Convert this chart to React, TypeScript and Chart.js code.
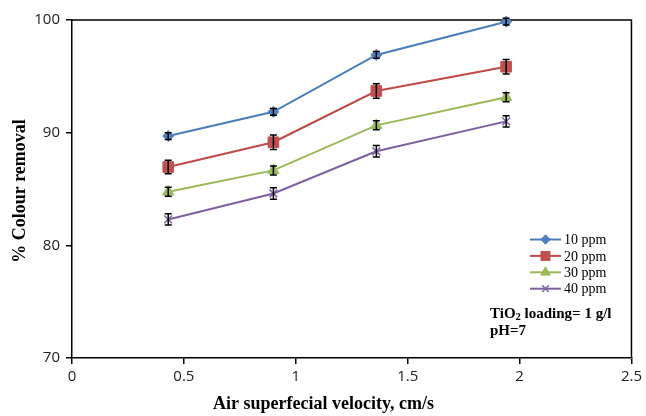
import React, { useEffect, useRef } from "react";
import { Chart, registerables } from "chart.js";
import { drawPoint } from "chart.js/helpers";

Chart.register(...registerables);

// Air superficial velocity (cm/s)
const velocity = [0.43, 0.9, 1.36, 1.94];

// % colour removal for each initial dye concentration
const ppm10 = [89.7, 91.85, 96.9, 99.85];
const ppm20 = [86.95, 89.15, 93.7, 95.85];
const ppm30 = [84.75, 86.65, 90.65, 93.15];
const ppm40 = [82.3, 84.6, 88.35, 91.0];

// standard deviations (± error bar half-length)
const err10 = [0.3, 0.3, 0.3, 0.3];
const err20 = [0.6, 0.65, 0.65, 0.65];
const err30 = [0.4, 0.4, 0.4, 0.4];
const err40 = [0.5, 0.5, 0.5, 0.5];

const seriesLabels = ["10 ppm", "20 ppm", "30 ppm", "40 ppm"];
const xTicks = [0, 0.5, 1, 1.5, 2, 2.5];
const yTicks = [70, 80, 90, 100];

const SERIF = '"Liberation Serif", "Times New Roman", serif';
const SANS = '"Open Sans", "DejaVu Sans", sans-serif';

const series = [
  { values: ppm10, errs: err10, line: "#4A7EBB", fill: "#4F81BD", style: "rectRot", radius: 5.5 },
  { values: ppm20, errs: err20, line: "#BE4B48", fill: "#C0504D", style: "rect", radius: 7.5 },
  { values: ppm30, errs: err30, line: "#98B954", fill: "#9BBB59", style: "triangle", radius: 6.5 },
  { values: ppm40, errs: err40, line: "#7D60A0", fill: "#8064A2", style: "crossRot", radius: 5.5 },
];

const frameAndErrors = {
  id: "frameAndErrors",
  beforeDatasetsDraw(chart: any) {
    const { ctx, chartArea } = chart;
    ctx.save();
    ctx.strokeStyle = "#000";
    ctx.lineWidth = 1.5;
    ctx.beginPath();
    ctx.moveTo(chartArea.left, chartArea.top);
    ctx.lineTo(chartArea.right, chartArea.top);
    ctx.lineTo(chartArea.right, chartArea.bottom);
    ctx.stroke();
    ctx.restore();
  },
  afterDatasetsDraw(chart: any) {
    const { ctx } = chart;
    const xs = chart.scales.x;
    const ys = chart.scales.y;
    ctx.save();
    ctx.strokeStyle = "#000";
    ctx.lineWidth = 1.5;
    chart.data.datasets.forEach((ds: any) => {
      ds.data.forEach((p: any, i: number) => {
        const e = ds.errors[i];
        const px = xs.getPixelForValue(p.x);
        const top = ys.getPixelForValue(p.y + e);
        const bot = ys.getPixelForValue(p.y - e);
        ctx.beginPath();
        ctx.moveTo(px, top);
        ctx.lineTo(px, bot);
        ctx.moveTo(px - 3.5, top);
        ctx.lineTo(px + 3.5, top);
        ctx.moveTo(px - 3.5, bot);
        ctx.lineTo(px + 3.5, bot);
        ctx.stroke();
      });
    });
    ctx.restore();
  },
  afterDraw(chart: any) {
    const { ctx, chartArea } = chart;
    ctx.save();

    // legend inside the plot
    const lx = 530;
    let ly = 239.5;
    ctx.font = `14px ${SERIF}`;
    ctx.textBaseline = "middle";
    ctx.textAlign = "left";
    chart.data.datasets.forEach((ds: any) => {
      ctx.strokeStyle = ds.borderColor;
      ctx.lineWidth = 2;
      ctx.beginPath();
      ctx.moveTo(lx, ly);
      ctx.lineTo(lx + 31, ly);
      ctx.stroke();
      ctx.fillStyle = ds.pointBackgroundColor;
      ctx.strokeStyle = ds.pointBorderColor;
      ctx.lineWidth = ds.pointStyle === "crossRot" ? 1.5 : 1;
      drawPoint(ctx, { pointStyle: ds.pointStyle, radius: ds.pointRadius * 0.85, rotation: 0, borderWidth: 1 }, lx + 15.5, ly);
      ctx.fillStyle = "#000";
      ctx.fillText(ds.label, lx + 34, ly + 1);
      ly += 16.4;
    });

    // operating conditions note
    ctx.fillStyle = "#000";
    ctx.font = `bold 15px ${SERIF}`;
    let tx = 490;
    const ty = 314;
    ctx.fillText("TiO", tx, ty);
    tx += ctx.measureText("TiO").width;
    ctx.font = `bold 10.5px ${SERIF}`;
    ctx.fillText("2", tx, ty + 3);
    tx += ctx.measureText("2").width;
    ctx.font = `bold 15px ${SERIF}`;
    ctx.fillText(" loading= 1 g/l", tx, ty);
    ctx.fillText("pH=7", 490, 331);

    // axis titles
    ctx.font = `bold 18px ${SERIF}`;
    ctx.textAlign = "left";
    ctx.fillText("Air superfecial velocity, cm/s", 213, 404);
    ctx.translate(20, (chartArea.top + chartArea.bottom) / 2 + 2);
    ctx.rotate(-Math.PI / 2);
    ctx.textAlign = "center";
    ctx.fillText("% Colour removal", 0, 0);
    ctx.restore();
  },
};

export default function App() {
  const canvasRef = useRef<HTMLCanvasElement | null>(null);

  useEffect(() => {
    if (!canvasRef.current) return;
    const datasets = series.map((s, k) => ({
      label: seriesLabels[k],
      data: velocity.map((x, i) => ({ x, y: s.values[i] })),
      errors: s.errs,
      borderColor: s.line,
      borderWidth: 2,
      pointStyle: s.style,
      pointRadius: s.radius,
      pointBackgroundColor: s.fill,
      pointBorderColor: s.fill,
      pointBorderWidth: s.style === "crossRot" ? 1.5 : 1,
      fill: false,
      tension: 0,
      clip: false,
    }));

    const chart = new Chart(canvasRef.current, {
      type: "line",
      data: { datasets: datasets as any },
      plugins: [frameAndErrors],
      options: {
        animation: false,
        responsive: false,
        devicePixelRatio: 1,
        layout: { padding: { top: 20, right: 13, left: 0, bottom: 0 } },
        plugins: { legend: { display: false }, tooltip: { enabled: false } },
        scales: {
          x: {
            type: "linear",
            min: xTicks[0],
            max: xTicks[xTicks.length - 1],
            afterBuildTicks: (scale: any) => {
              scale.ticks = xTicks.map((v) => ({ value: v }));
            },
            afterFit: (scale: any) => {
              scale.height = 58;
            },
            border: { display: true, color: "#000", width: 1.5 },
            grid: { display: true, drawOnChartArea: false, drawTicks: true, tickLength: 6, color: "#000", lineWidth: 1.5 },
            ticks: {
              padding: 4,
              color: "#222",
              font: { family: SANS, size: 15 },
              callback: (v: any) => String(v),
            },
          },
          y: {
            type: "linear",
            min: yTicks[0],
            max: yTicks[yTicks.length - 1],
            afterBuildTicks: (scale: any) => {
              scale.ticks = yTicks.map((v) => ({ value: v }));
            },
            afterFit: (scale: any) => {
              scale.width = 72;
            },
            border: { display: true, color: "#000", width: 1.5 },
            grid: { display: true, drawOnChartArea: false, drawTicks: true, tickLength: 6, color: "#000", lineWidth: 1.5 },
            ticks: {
              padding: 6,
              color: "#222",
              font: { family: SANS, size: 15 },
              callback: (v: any) => String(v),
            },
          },
        },
      } as any,
    });
    return () => chart.destroy();
  }, []);

  return (
    <div style={{ position: "fixed", left: 0, top: 0, width: 646, height: 416, background: "#fff" }}>
      <canvas ref={canvasRef} width={646} height={416} style={{ display: "block" }} />
    </div>
  );
}
